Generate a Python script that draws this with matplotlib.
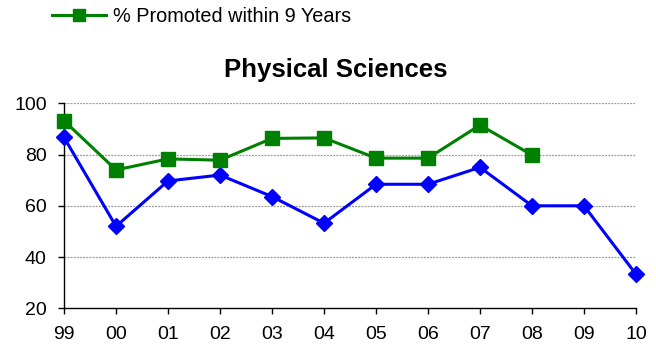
import matplotlib
matplotlib.use("Agg")
import matplotlib.pyplot as plt
from matplotlib.lines import Line2D

plt.rcParams['font.family'] = ['Liberation Sans', 'DejaVu Sans']

years = ["99", "00", "01", "02", "03", "04", "05", "06", "07", "08", "09", "10"]
promoted_9yr = [93.2, 74.0, 78.3, 77.8, 86.3, 86.5, 78.6, 78.6, 91.5, 79.8]
blue_series = [86.7, 52.0, 69.7, 72.0, 63.6, 53.2, 68.4, 68.4, 75.0, 60.0, 60.0, 33.3]
y_ticks = [20, 40, 60, 80, 100]

fig = plt.figure(figsize=(6.56, 3.44), dpi=100)
ax = fig.add_axes([0.0976, 0.1038, 0.8719, 0.5959])

x_all = list(range(len(years)))
ax.plot(x_all, blue_series, color="#0000FF", lw=2.2, marker="D", ms=8,
        markeredgecolor="#0000FF", zorder=3, clip_on=False)
ax.plot(x_all[:len(promoted_9yr)], promoted_9yr, color="#008000", lw=2.2,
        marker="s", ms=10, markeredgecolor="#008000", zorder=4, clip_on=False)

ax.set_xlim(0, len(years) - 1)
ax.set_ylim(20, 100)
ax.set_xticks(x_all)
ax.set_xticklabels(years)
ax.set_yticks(y_ticks)
ax.tick_params(axis="both", labelsize=14, length=4.5, width=1, direction="out", color="black")
ax.tick_params(axis="y", pad=8)
ax.tick_params(axis="x", pad=8)

for s in ["top", "right"]:
    ax.spines[s].set_visible(False)
for s in ["left", "bottom"]:
    ax.spines[s].set_color("black")
    ax.spines[s].set_linewidth(1)

for v in y_ticks[1:]:
    ax.axhline(v, color="#999999", lw=0.9, ls=(0, (1.5, 1)), zorder=1)

fig.text(0.512, 0.797, "Physical Sciences", ha="center", va="center",
         fontsize=18.5, fontweight="bold")

handle = Line2D([], [], color="#008000", lw=2.2, marker="s", ms=9)
fig.legend([handle], ["% Promoted within 9 Years"], loc="center left",
           bbox_to_anchor=(0.067, 0.953), frameon=False, fontsize=14.3,
           handlelength=2.7, handletextpad=0.4, borderaxespad=0)

fig.savefig("out.png", dpi=100)
